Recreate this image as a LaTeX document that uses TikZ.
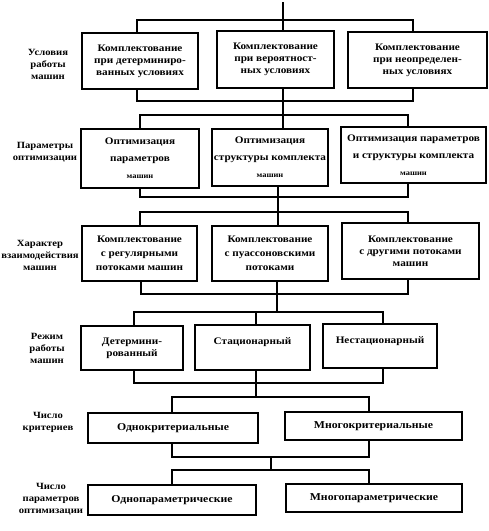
\documentclass[tikz,border=0pt]{standalone}
\usepackage{fontspec}
\setmainfont[FakeStretch=1.12]{Liberation Serif}
\begin{document}
\begin{tikzpicture}[x=1pt,y=-1pt,
  box/.style={draw, line width=1.3pt, align=center, inner sep=1pt,
    font=\bfseries\fontsize{10}{12}\selectfont},
  boxb/.style={box, font=\bfseries\fontsize{10}{17}\selectfont},
  boxc/.style={box, font=\bfseries\fontsize{10}{14}\selectfont},
  boxw/.style={box, font=\bfseries\fontsize{10.5}{12}\selectfont},
  lbl/.style={align=center, inner sep=0pt, font=\bfseries\fontsize{9.5}{12}\selectfont},
  ln/.style={line width=1.2pt}]
\useasboundingbox (0,0) rectangle (489,531);

% ---------- row labels ----------
\node[lbl] (L1) at (48,64) {Условия\\работы\\машин};
\node[lbl] (L2) at (45,152) {Параметры\\оптимизации};
\node[lbl] (L3) at (40,255) {Характер\\взаимодействия\\машин};
\node[lbl] (L4) at (47,348) {Режим\\работы\\машин};
\node[lbl] (L5) at (48,422) {Число\\критериев};
\node[lbl] (L6) at (51,499) {Число\\параметров\\оптимизации};

% ---------- row 1 ----------
\node[box, minimum width=116pt, minimum height=56pt] (A1) at (140,61) {Комплектование\\при детерминиро-\\ванных условиях};
\node[box, minimum width=117pt, minimum height=57pt] (B1) at (275.5,59.5) {Комплектование\\при вероятност-\\ных условиях};
\node[box, minimum width=139pt, minimum height=56pt] (C1) at (417.5,60) {Комплектование\\при неопределен-\\ных условиях};

% ---------- row 2 ----------
\node[boxb, minimum width=118pt, minimum height=59pt] (A2) at (140,158.5) {Оптимизация\\параметров\\{\fontsize{7.5}{17}\selectfont машин}};
\node[boxb, minimum width=116pt, minimum height=57pt] (B2) at (270,157.5) {Оптимизация\\структуры комплекта\\{\fontsize{7.5}{17}\selectfont машин}};
\node[boxb, minimum width=145pt, minimum height=56pt] (C2) at (413.5,155) {Оптимизация параметров\\и структуры комплекта\\{\fontsize{7.5}{17}\selectfont машин}};

% ---------- row 3 ----------
\node[boxc, minimum width=115pt, minimum height=55pt] (A3) at (139.5,253.5) {Комплектование\\с регулярными\\потоками машин};
\node[boxc, minimum width=116pt, minimum height=55pt] (B3) at (270,253.5) {Комплектование\\с пуассоновскими\\потоками};
\node[box, minimum width=137pt, minimum height=56pt] (C3) at (410.5,251) {Комплектование\\с другими потоками\\машин};

% ---------- row 4 ----------
\node[box, minimum width=102pt, minimum height=44pt] (A4) at (132,348) {Детермини-\\рованный};
\node[box, minimum width=115pt, minimum height=45pt, text depth=12pt] (B4) at (252.5,347.5) {Стационарный};
\node[box, minimum width=114pt, minimum height=44pt, text depth=12pt] (C4) at (380,346) {Нестационарный};

% ---------- row 5 ----------
\node[boxw, minimum width=170pt, minimum height=30pt] (A5) at (173,428) {Однокритериальные};
\node[boxw, minimum width=177pt, minimum height=28pt] (B5) at (373.5,426) {Многокритериальные};

% ---------- row 6 ----------
\node[boxw, minimum width=168pt, minimum height=30pt] (A6) at (172,500) {Однопараметрические};
\node[boxw, minimum width=176pt, minimum height=28pt] (B6) at (374,498) {Многопараметрические};

% ---------- bus junctions ----------
\coordinate (top) at (283,2);
\coordinate (T1) at (283,20);  \coordinate (T1l) at (137,20);  \coordinate (T1r) at (413,20);
\coordinate (U1) at (283,101); \coordinate (U1l) at (137,101); \coordinate (U1r) at (413,101);
\coordinate (T2) at (283,115); \coordinate (T2l) at (140,115); \coordinate (T2r) at (408,115);
\coordinate (U2) at (278,197); \coordinate (U2l) at (140,197); \coordinate (U2r) at (408,197);
\coordinate (T3) at (278,212); \coordinate (T3l) at (140,212); \coordinate (T3r) at (408,212);
\coordinate (U3) at (277,294); \coordinate (U3l) at (141,294); \coordinate (U3r) at (408,294);
\coordinate (T4) at (277,312); \coordinate (T4m) at (256,312); \coordinate (T4l) at (134,312); \coordinate (T4r) at (383,312);
\coordinate (U4) at (256,383); \coordinate (U4l) at (134,383); \coordinate (U4r) at (383,383);
\coordinate (T5) at (256,397); \coordinate (T5l) at (172,397); \coordinate (T5r) at (369,397);
\coordinate (U5) at (271,457); \coordinate (U5l) at (172,457); \coordinate (U5r) at (369,457);
\coordinate (T6) at (271,470); \coordinate (T6l) at (172,470); \coordinate (T6r) at (369,470);

% ---------- connectors ----------
% row 1
\draw[ln] (top) -- (T1) -- (B1.north -| T1);
\draw[ln] (A1.north -| T1l) -- (T1l) -- (T1r) -- (C1.north -| T1r);
\draw[ln] (A1.south -| U1l) -- (U1l) -- (U1r) -- (C1.south -| U1r);
\draw[ln] (B1.south -| U1) -- (U1) -- (T2);
% row 2
\draw[ln] (T2) -- (B2.north -| T2);
\draw[ln] (A2.north -| T2l) -- (T2l) -- (T2r) -- (C2.north -| T2r);
\draw[ln] (A2.south -| U2l) -- (U2l) -- (U2r) -- (C2.south -| U2r);
\draw[ln] (B2.south -| U2) -- (U2) -- (T3);
% row 3
\draw[ln] (T3) -- (B3.north -| T3);
\draw[ln] (A3.north -| T3l) -- (T3l) -- (T3r) -- (C3.north -| T3r);
\draw[ln] (A3.south -| U3l) -- (U3l) -- (U3r) -- (C3.south -| U3r);
\draw[ln] (B3.south -| U3) -- (U3) -- (T4);
% row 4
\draw[ln] (T4m) -- (B4.north -| T4m);
\draw[ln] (A4.north -| T4l) -- (T4l) -- (T4r) -- (C4.north -| T4r);
\draw[ln] (A4.south -| U4l) -- (U4l) -- (U4r) -- (C4.south -| U4r);
\draw[ln] (B4.south -| U4) -- (U4) -- (T5);
% row 5
\draw[ln] (A5.north -| T5l) -- (T5l) -- (T5r) -- (B5.north -| T5r);
\draw[ln] (A5.south -| U5l) -- (U5l) -- (U5r) -- (B5.south -| U5r);
\draw[ln] (U5) -- (T6);
% row 6
\draw[ln] (A6.north -| T6l) -- (T6l) -- (T6r) -- (B6.north -| T6r);
\end{tikzpicture}
\end{document}
